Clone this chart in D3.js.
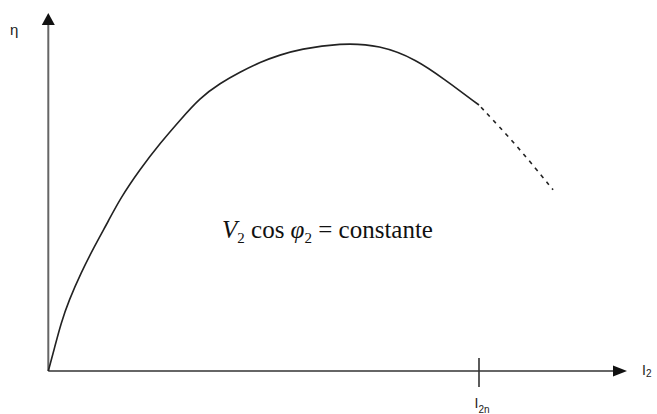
<!DOCTYPE html>
<html>
<head>
<meta charset="utf-8">
<script src="https://cdn.jsdelivr.net/npm/d3@7"></script>
<style>
  html, body { margin: 0; padding: 0; background: #fff; }
  svg { display: block; }
</style>
</head>
<body>
<svg id="chart" width="657" height="414"></svg>
<script>
// Efficiency η versus load current I2 (I2n = rated current = 1)
const currentSolid = [0, 0.0132, 0.0295, 0.0481, 0.0759, 0.106, 0.141, 0.166, 0.213, 0.260, 0.306, 0.352, 0.399, 0.445, 0.492, 0.538, 0.584, 0.677, 0.770, 0.856, 0.916, 1.0];
const etaSolid     = [0, 0.0587, 0.134, 0.198, 0.274, 0.346, 0.422, 0.480, 0.564, 0.637, 0.701, 0.763, 0.804, 0.835, 0.863, 0.883, 0.899, 0.916, 0.911, 0.869, 0.818, 0.743];
const currentOverload = [1.0, 1.091, 1.172];
const etaOverload     = [0.743, 0.626, 0.506];
const ratedTick = [1];
const ratedLabel = ["I", "2n"];
const xAxisLabel = ["I", "2"];
const yAxisLabel = "η";

const svg = d3.select("#chart");
const x = d3.scaleLinear().domain([0, 1]).range([48.3, 479]);
const y = d3.scaleLinear().domain([0, 1]).range([371, 13]);
const xMax = x.invert(627);
const axisColor = "#333";

// vertical axis with arrowhead
svg.append("line")
  .attr("x1", x(0)).attr("y1", y(0)).attr("x2", x(0)).attr("y2", y(1) + 10)
  .attr("stroke", "#666").attr("stroke-width", 2);
svg.append("path")
  .attr("d", `M${x(0)},${y(1)} L${x(0) - 6.5},${y(1) + 12} L${x(0) + 6.5},${y(1) + 12} Z`)
  .attr("fill", "#111");

// horizontal axis with arrowhead
svg.append("line")
  .attr("x1", x(0)).attr("y1", y(0)).attr("x2", x(xMax) - 10).attr("y2", y(0))
  .attr("stroke", axisColor).attr("stroke-width", 1.6);
svg.append("path")
  .attr("d", `M${x(xMax)},${y(0)} L${x(xMax) - 14},${y(0) - 5.5} L${x(xMax) - 14},${y(0) + 5.5} Z`)
  .attr("fill", "#111");

// rated current tick
svg.selectAll(".tick").data(ratedTick).join("line")
  .attr("class", "tick")
  .attr("x1", d => x(d)).attr("x2", d => x(d))
  .attr("y1", y(0) - 13).attr("y2", y(0) + 16)
  .attr("stroke", axisColor).attr("stroke-width", 1.6);

// axis labels
const sans = "'Liberation Sans', Arial, sans-serif";
svg.append("text").attr("x", 10).attr("y", 35)
  .attr("font-family", sans).attr("font-size", 15).attr("fill", "#222")
  .text(yAxisLabel);

const l2 = svg.append("text").attr("x", 642).attr("y", 375)
  .attr("font-family", sans).attr("font-size", 14).attr("fill", "#222");
l2.append("tspan").text(xAxisLabel[0]);
l2.append("tspan").attr("font-size", 10).attr("dy", 2).text(xAxisLabel[1]);

const l2n = svg.append("text").attr("x", x(ratedTick[0]) - 4.5).attr("y", 408)
  .attr("font-family", sans).attr("font-size", 14).attr("fill", "#222");
l2n.append("tspan").text(ratedLabel[0]);
l2n.append("tspan").attr("font-size", 10).attr("dy", 5).text(ratedLabel[1]);

// efficiency curve: solid up to rated current, dashed beyond
const line = d3.line().x(d => x(d[0])).y(d => y(d[1])).curve(d3.curveBasis);
svg.append("path")
  .datum(d3.zip(currentSolid, etaSolid))
  .attr("d", line)
  .attr("fill", "none").attr("stroke", "#222").attr("stroke-width", 1.6);
svg.append("path")
  .datum(d3.zip(currentOverload, etaOverload))
  .attr("d", line)
  .attr("fill", "none").attr("stroke", "#222").attr("stroke-width", 1.6)
  .attr("stroke-dasharray", "4,5").attr("stroke-dashoffset", -3);

// operating condition
const serif = "'Liberation Serif', 'Times New Roman', serif";
const f = svg.append("text").attr("x", 222).attr("y", 238)
  .attr("font-family", serif).attr("font-size", 25).attr("fill", "#111");
f.append("tspan").attr("font-style", "italic").text("V");
f.append("tspan").attr("font-size", 15).attr("dy", 5).text("2");
f.append("tspan").attr("dy", -5).text(" cos ");
f.append("tspan").attr("font-style", "italic").text("φ");
f.append("tspan").attr("font-size", 15).attr("dy", 5).text("2");
f.append("tspan").attr("dy", -5).text(" = constante");
</script>
</body>
</html>
